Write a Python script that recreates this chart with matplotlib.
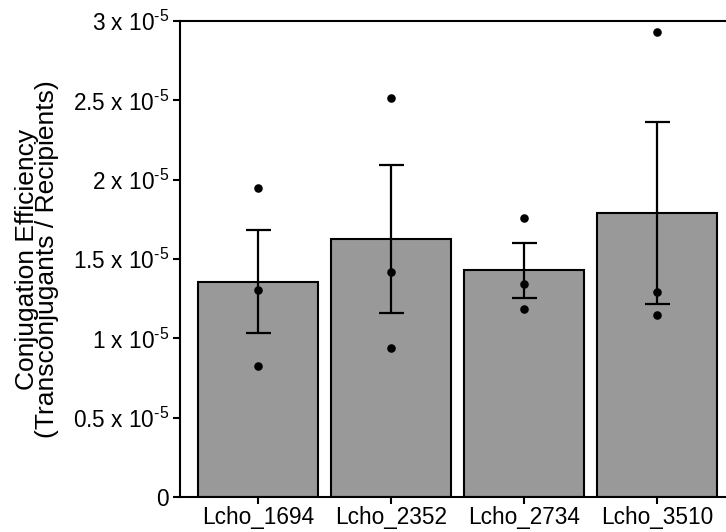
import matplotlib
matplotlib.use("Agg")
import matplotlib.pyplot as plt
import numpy as np

plt.rcParams['font.family'] = ['Liberation Sans', 'DejaVu Sans']
plt.rcParams['mathtext.fontset'] = 'custom'
plt.rcParams['mathtext.rm'] = 'Liberation Sans'
plt.rcParams['mathtext.default'] = 'regular'

# data (units of 1e-5)
genes = ['Lcho_1694', 'Lcho_2352', 'Lcho_2734', 'Lcho_3510']
means = [1.358, 1.626, 1.428, 1.790]
sem = [0.325, 0.465, 0.171, 0.572]
points = [
    [1.948, 1.306, 0.826],
    [2.517, 1.421, 0.940],
    [1.758, 1.342, 1.184],
    [2.932, 1.289, 1.146],
]
yticks = [0, 0.5, 1, 1.5, 2, 2.5, 3]
ytick_labels = ['0'] + [f'{v:g} x 10$^{{\\text{{-5}}}}$' for v in yticks[1:]]

fig = plt.figure(figsize=(7.26, 5.32), dpi=100)
ax = fig.add_axes([180 / 726, 35 / 532, 1 - 180 / 726, (497 - 21) / 532])

x = np.arange(len(genes))
ax.bar(x, means, width=0.9, color='#999999', edgecolor='black', linewidth=1.5, zorder=1)
ax.errorbar(x, means, yerr=sem, fmt='none', ecolor='black', elinewidth=1.6,
            capsize=9, capthick=1.6, zorder=2)
for i, pts in enumerate(points):
    ax.scatter([i] * len(pts), pts, s=38, color='black', zorder=3, linewidths=0)

ax.set_xlim(-0.586, 3.52)
ax.set_ylim(0, 3)
ax.set_xticks(x)
ax.set_xticklabels(genes, fontsize=16.3)
ax.set_yticks(yticks)
ax.set_yticklabels(ytick_labels, fontsize=16.3)
ax.tick_params(axis='both', direction='out', length=5, width=1.5, pad=3)
ax.tick_params(axis='x', pad=1.5)

for s in ['left', 'bottom', 'top']:
    ax.spines[s].set_linewidth(1.5)
ax.spines['right'].set_visible(False)

ax.set_ylabel('Conjugation Efficiency\n(Transconjugants / Recipients)',
              fontsize=19, labelpad=10, linespacing=0.8)

fig.savefig('out.png', dpi=100)
